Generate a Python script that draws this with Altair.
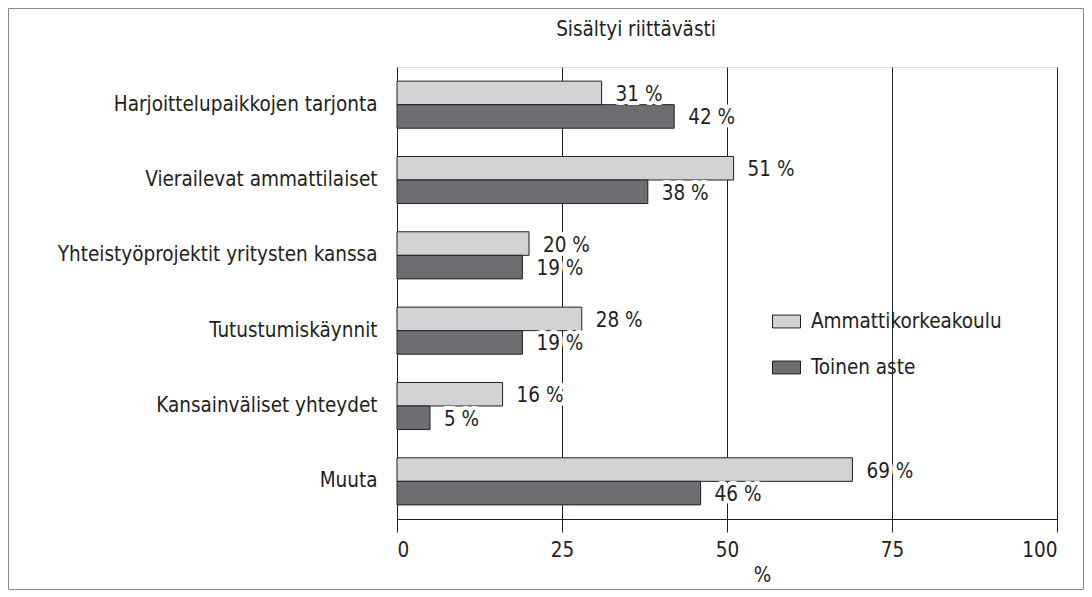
import altair as alt
import pandas as pd

categories = [
    "Harjoittelupaikkojen tarjonta",
    "Vierailevat ammattilaiset",
    "Yhteistyöprojektit yritysten kanssa",
    "Tutustumiskäynnit",
    "Kansainväliset yhteydet",
    "Muuta",
]
series = ["Ammattikorkeakoulu", "Toinen aste"]
amk = [31, 51, 20, 28, 16, 69]
toinen = [42, 38, 19, 19, 5, 46]
x_ticks = [0, 25, 50, 75, 100]
colors = ["#d1d2d4", "#6d6e71"]
chart_title = "Sisältyi riittävästi"

rows = []
for c, a, t in zip(categories, amk, toinen):
    rows.append({"cat": c, "series": series[0], "value": a, "label": f"{a} %"})
    rows.append({"cat": c, "series": series[1], "value": t, "label": f"{t} %"})
df = pd.DataFrame(rows)

FONT = "Liberation Sans Narrow, DejaVu Sans Condensed, Arial Narrow, sans-serif"
INK = "#231f20"
W, H = 660, 452
FS = 20.5

y_enc = alt.Y(
    "cat:N",
    sort=categories,
    title=None,
    scale=alt.Scale(paddingInner=0.375, paddingOuter=0.1875),
    axis=alt.Axis(
        ticks=False,
        domain=False,
        labelPadding=20,
        labelFontSize=FS,
        labelFont=FONT,
        labelColor=INK,
        labelLimit=500,
    ),
)
yoff = alt.YOffset("series:N", sort=series, scale=alt.Scale(paddingInner=0, paddingOuter=0))
x_enc = alt.X(
    "value:Q",
    scale=alt.Scale(domain=[0, 100], nice=False),
    axis=alt.Axis(
        values=x_ticks,
        title="%",
        tickSize=13,
        tickColor=INK,
        domainColor=INK,
        gridColor=INK,
        gridOpacity=1,
        labelFontSize=FS,
        labelFont=FONT,
        labelColor=INK,
        labelPadding=8,
        titleFont=FONT,
        titleFontSize=FS,
        titleFontWeight="normal",
        titleColor=INK,
        titleX=365,
        titleY=56,
        titleBaseline="middle",
        zindex=0,
    ),
)

base = alt.Chart(df)

bars = base.mark_bar(stroke=INK, strokeWidth=1).encode(
    x=x_enc,
    y=y_enc,
    yOffset=yoff,
    color=alt.Color(
        "series:N",
        sort=series,
        scale=alt.Scale(domain=series, range=colors),
        legend=alt.Legend(
            title=None,
            orient="none",
            legendX=375,
            legendY=240,
            symbolType="M-1,-0.46H1V0.46H-1Z",
            symbolSize=784,
            symbolStrokeColor=INK,
            symbolStrokeWidth=1,
            labelFontSize=FS,
            labelFont=FONT,
            labelColor=INK,
            labelOffset=10,
            labelLimit=400,
            rowPadding=21,
            padding=0,
        ),
    ),
)

halo = base.mark_text(
    align="left", baseline="middle", dx=14, dy=2, fontSize=FS, font=FONT,
    fill="white", stroke="white", strokeWidth=8, strokeJoin="round",
).encode(x="value:Q", y=alt.Y("cat:N", sort=categories), yOffset=yoff, text="label:N")

labels = base.mark_text(
    align="left", baseline="middle", dx=14, dy=2, fontSize=FS, font=FONT, color=INK,
).encode(x="value:Q", y=alt.Y("cat:N", sort=categories), yOffset=yoff, text="label:N")

border = alt.Chart(pd.DataFrame({"a": [0]})).mark_rect(
    fillOpacity=0, stroke="#8c8c8c", strokeWidth=1
).encode(
    x=alt.value(-388.5), x2=alt.value(W + 26.5), y=alt.value(-58.5), y2=alt.value(H + 70.5)
)

title = alt.Chart(pd.DataFrame({"t": [chart_title]})).mark_text(
    align="center", baseline="middle", fontSize=FS, font=FONT, color=INK
).encode(text="t:N", x=alt.value(239), y=alt.value(-37))

chart = (
    alt.layer(border, bars, halo, labels, title)
    .properties(
        width=W,
        height=H,
        autosize="none",
        padding={"left": 389, "top": 59, "right": 27, "bottom": 71},
    )
    .configure_view(stroke=INK, strokeWidth=1)
    .configure(background="white")
)

chart.save("out.html", embed_options={"renderer": "svg", "actions": False})
